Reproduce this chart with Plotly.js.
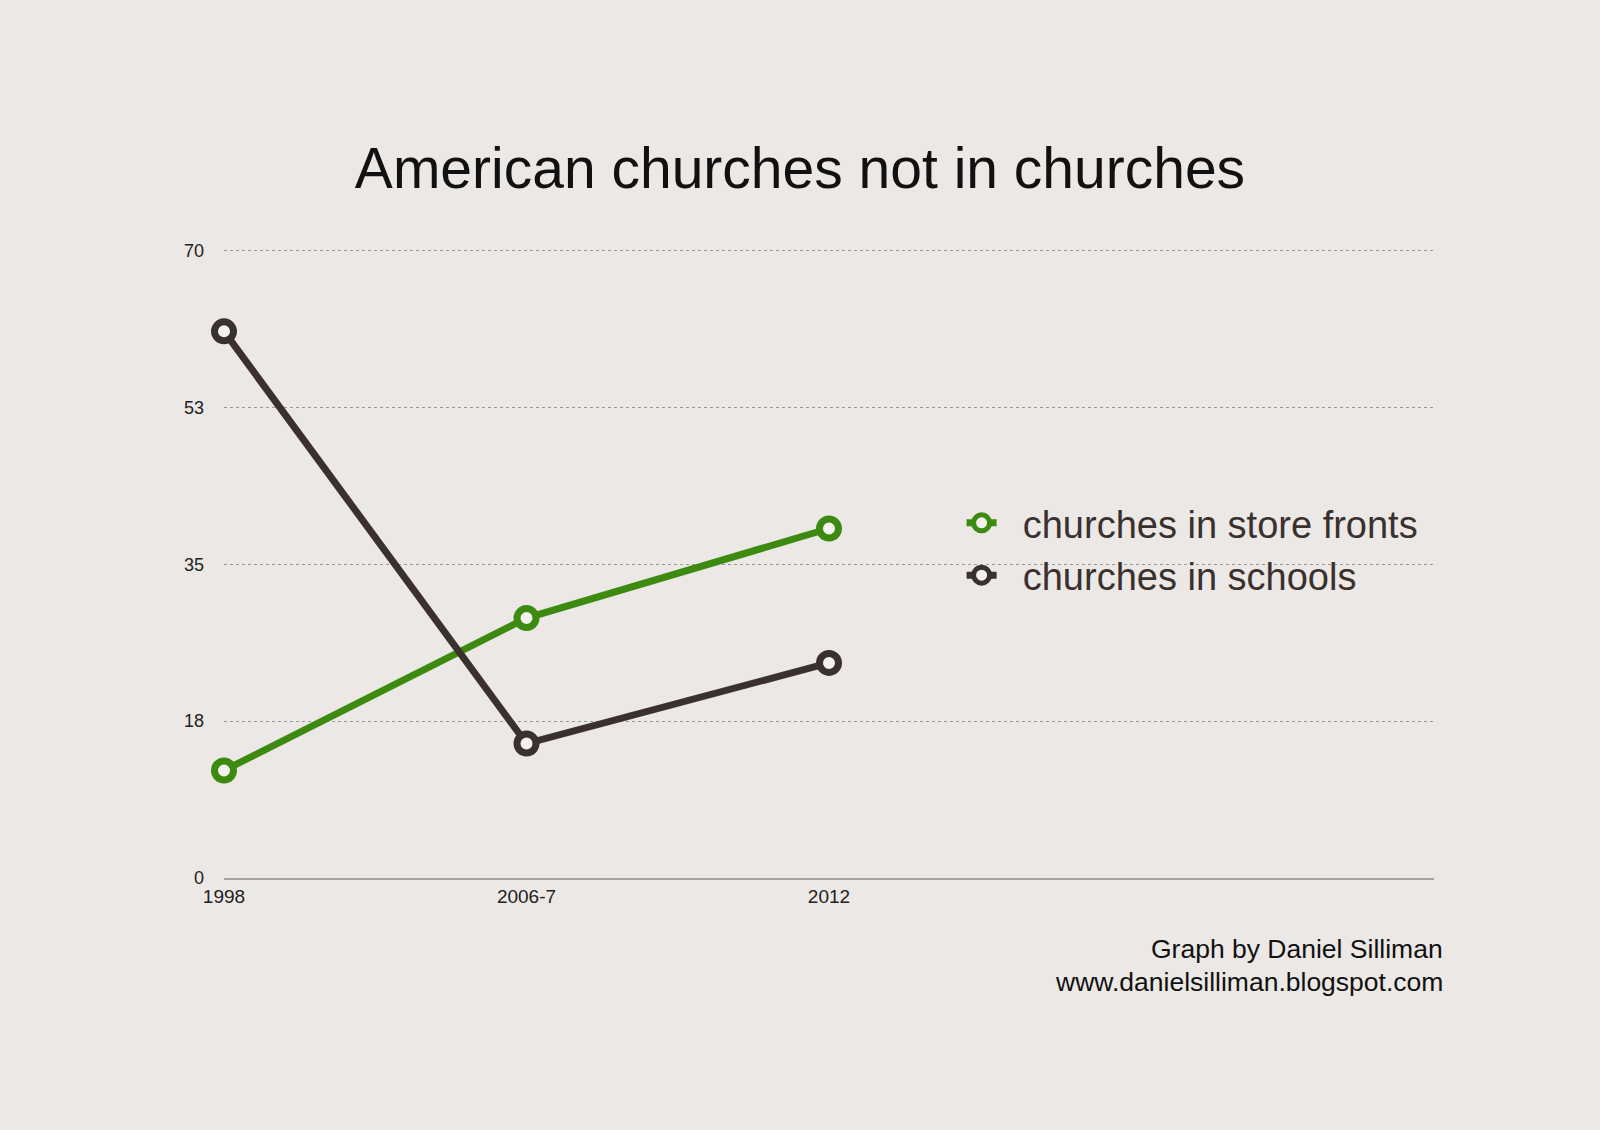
<!DOCTYPE html>
<html>
<head>
<meta charset="utf-8">
<script src="https://cdn.plot.ly/plotly-3.0.1.min.js"></script>
<style>
html,body{margin:0;padding:0;background:#ebe8e5;}
#chart{width:1600px;height:1130px;}
</style>
</head>
<body>
<div id="chart"></div>
<script>
const categories = ["1998", "2006-7", "2012"];
const catPositions = [0, 1, 2];
const storeFronts = [12, 29, 39];
const schools = [61, 15, 24];
const seriesNames = ["churches in store fronts", "churches in schools"];
const yTickVals = [0, 17.5, 35, 52.5, 70];
const yTickText = ["0", "18", "35", "53", "70"];

const FONT = "Liberation Sans, Arial, Helvetica, sans-serif";
const bg = "#ebe8e5";
const pad = "\u00A0\u00A0";

const traces = [
  {
    x: catPositions, y: storeFronts, name: pad + seriesNames[0],
    type: "scatter", mode: "lines+markers", cliponaxis: false,
    line: {color: "#3d8a10", width: 7},
    marker: {size: 19, color: "#f4f2ef", line: {color: "#3d8a10", width: 7}}
  },
  {
    x: catPositions, y: schools, name: pad + seriesNames[1],
    type: "scatter", mode: "lines+markers", cliponaxis: false,
    line: {color: "#3a302d", width: 7},
    marker: {size: 19, color: "#f4f2ef", line: {color: "#3a302d", width: 7}}
  }
];

const plotL = 224, plotR = 1434, plotT = 248, plotB = 878;
const W = plotR - plotL, H = plotB - plotT;

const layout = {
  width: 1600, height: 1130,
  paper_bgcolor: bg, plot_bgcolor: bg,
  margin: {l: plotL, r: 1600 - plotR, t: plotT, b: 1130 - plotB},
  font: {family: FONT, color: "#222"},
  title: {text: "American churches not in churches", font: {size: 57, color: "#111", family: FONT},
          x: 0.5, xanchor: "center", y: 1 - 168/1130, yanchor: "middle"},
  showlegend: true,
  legend: {x: (981.6 - 20 - plotL) / W, y: (plotB - 528.6 + 26 + 11) / H, yanchor: "top",
           font: {size: 38, color: "#3a302d", family: FONT},
           bgcolor: "rgba(0,0,0,0)", traceorder: "normal"},
  xaxis: {
    range: [0, 4], tickvals: catPositions, ticktext: categories,
    showgrid: false, zeroline: false, showline: true, linecolor: "#a3a3a3", linewidth: 2,
    ticks: "", tickfont: {size: 19, color: "#222", family: FONT}, fixedrange: true
  },
  yaxis: {
    range: [0, 70.3], tickvals: yTickVals, ticktext: yTickText,
    showgrid: true, gridcolor: "#9a9a9a", gridwidth: 1, griddash: "dot",
    zeroline: false, showline: false, ticks: "", ticklabelstandoff: 19,
    tickfont: {size: 18, color: "#222", family: FONT}, fixedrange: true
  },
  annotations: [
    {text: "Graph by Daniel Silliman", xref: "paper", yref: "paper",
     x: (1445 - plotL) / W, y: (plotB - 949) / H, xanchor: "right", yanchor: "middle",
     showarrow: false, font: {size: 26.5, color: "#111", family: FONT}},
    {text: "www.danielsilliman.blogspot.com", xref: "paper", yref: "paper",
     x: (1445 - plotL) / W, y: (plotB - 982) / H, xanchor: "right", yanchor: "middle",
     showarrow: false, font: {size: 26.5, color: "#111", family: FONT}}
  ]
};

Plotly.newPlot("chart", traces, layout, {displayModeBar: false, staticPlot: true});
</script>
</body>
</html>
